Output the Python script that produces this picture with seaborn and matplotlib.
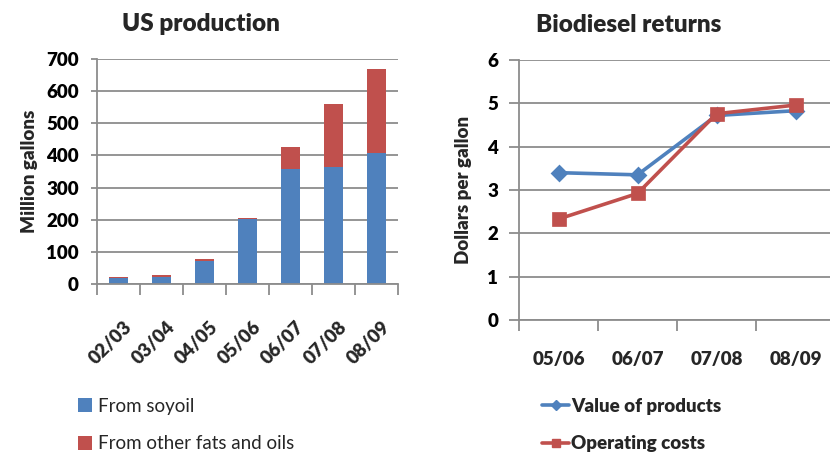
import matplotlib
matplotlib.use("Agg")
import matplotlib.pyplot as plt
import matplotlib.transforms as mtransforms
from matplotlib.patches import Patch
from matplotlib.lines import Line2D
import numpy as np
import pandas as pd
import seaborn as sns

# ---- data ----
years_prod = ["02/03", "03/04", "04/05", "05/06", "06/07", "07/08", "08/09"]
soyoil = [18, 23, 72, 201, 358, 364, 409]
other_fats = [3, 4, 6, 4, 68, 196, 260]

years_ret = ["05/06", "06/07", "07/08", "08/09"]
value_products = [3.40, 3.35, 4.72, 4.83]
operating_costs = [2.33, 2.92, 4.76, 4.96]

BLUE = "#4F81BD"
RED = "#C0504D"
GRID = "#8C8C8C"
BOLD = "heavy"

sns.set_theme(style="white")
plt.rcParams['font.family'] = ['Lato', 'DejaVu Sans']

W, H = 830, 458
fig = plt.figure(figsize=(W / 100, H / 100), dpi=100)


def px_axes(x0, y0, x1, y1):
    return fig.add_axes([x0 / W, 1 - y1 / H, (x1 - x0) / W, (y1 - y0) / H])


def style_axes(ax, ncat, ytick_pad, ytick_len):
    for s in ["top", "right"]:
        ax.spines[s].set_visible(False)
    for s in ["left", "bottom"]:
        ax.spines[s].set_color(GRID)
        ax.spines[s].set_linewidth(1.3)
    ax.grid(axis="y", color=GRID, linewidth=1.3)
    ax.grid(axis="x", visible=False)
    ax.set_axisbelow(True)
    ax.set_xlim(-0.5, ncat - 0.5)
    ax.set_xticks(np.arange(-0.5, ncat, 1.0), minor=True)
    ax.tick_params(axis="x", which="minor", length=8, width=1.3, color=GRID,
                   direction="out", bottom=True)
    ax.tick_params(axis="x", which="major", length=0, bottom=False)
    ax.tick_params(axis="y", which="major", length=ytick_len, width=1.3,
                   color=GRID, direction="out", left=True, pad=ytick_pad)
    for lab in ax.get_yticklabels():
        lab.set_fontweight(BOLD)
        lab.set_fontsize(13.5)
        lab.set_color("black")


# ---- left: US production (stacked bars) ----
ax1 = px_axes(97, 59, 398, 284)
df_prod = pd.DataFrame({"year": years_prod, "soy": soyoil, "other": other_fats})
sns.barplot(data=df_prod, x="year", y="other", bottom=df_prod["soy"],
            color=RED, width=0.42, saturation=1, ax=ax1, edgecolor="none")
sns.barplot(data=df_prod, x="year", y="soy",
            color=BLUE, width=0.42, saturation=1, ax=ax1, edgecolor="none")
ax1.set_ylim(0, 700)
ax1.set_yticks(range(0, 701, 100))
ax1.set_xlabel("")
ax1.set_ylabel("Million gallons", fontsize=13.5, fontweight=BOLD)
style_axes(ax1, len(years_prod), ytick_pad=9, ytick_len=4)
ax1.tick_params(axis="x", which="major", pad=0)
ax1.set_xticks(range(len(years_prod)))
ax1.set_xticklabels(years_prod, rotation=45, ha="right", va="center",
                    rotation_mode="anchor", fontsize=13.5, fontweight=BOLD)
ax1.yaxis.set_label_coords(-59 / 301, 0.5)
ax1.set_title("US production", fontsize=17.5, fontweight=BOLD, pad=20,
              x=(201 - 97) / 301)

leg1 = fig.legend(
    handles=[Patch(facecolor=BLUE, edgecolor="none"),
             Patch(facecolor=RED, edgecolor="none")],
    labels=["From soyoil", "From other fats and oils"],
    loc="center left", bbox_to_anchor=(78 / W, 1 - 425 / H),
    frameon=False, fontsize=13.5, handlelength=0.75, handleheight=0.75,
    handletextpad=0.3, labelspacing=1.1, borderaxespad=0, borderpad=0)

# ---- right: Biodiesel returns (lines) ----
ax2 = px_axes(519, 60, 835, 320)
df_ret = pd.DataFrame({"year": years_ret, "value": value_products,
                       "cost": operating_costs})
sns.pointplot(data=df_ret, x="year", y="value", color=BLUE, marker="D",
              markersize=7, linewidth=2.6, ax=ax2, errorbar=None)
sns.pointplot(data=df_ret, x="year", y="cost", color=RED, marker="s",
              markersize=8, linewidth=2.6, ax=ax2, errorbar=None)
ax2.set_ylim(0, 6)
ax2.set_yticks(range(0, 7))
ax2.set_xlabel("")
ax2.set_ylabel("Dollars per gallon", fontsize=13.5, fontweight=BOLD)
style_axes(ax2, len(years_ret), ytick_pad=8, ytick_len=7)
ax2.set_xlim(-0.5, len(years_ret) - 0.5)
ax2.tick_params(axis="x", which="major", pad=22)
ax2.set_xticks(range(len(years_ret)))
ax2.set_xticklabels(years_ret, fontsize=13.5, fontweight=BOLD)
ax2.yaxis.set_label_coords(-47 / 316, 0.5)
ax2.set_title("Biodiesel returns", fontsize=17.5, fontweight=BOLD, pad=20,
              x=(629 - 519) / 316)

leg2 = fig.legend(
    handles=[Line2D([0], [0], color=BLUE, marker="D", markersize=5, linewidth=2.6),
             Line2D([0], [0], color=RED, marker="s", markersize=6, linewidth=2.6)],
    labels=["Value of products", "Operating costs"],
    loc="center left", bbox_to_anchor=(542 / W, 1 - 425 / H),
    frameon=False, handlelength=1.45, handletextpad=0.1, labelspacing=1.1,
    borderaxespad=0, borderpad=0, prop={"size": 13.5, "weight": BOLD})

# shift the rotated production labels so they end just right of the bar centres
off = mtransforms.ScaledTranslation(11 / 100, -40 / 100, fig.dpi_scale_trans)
for lab in ax1.xaxis.get_majorticklabels():
    lab.set_transform(lab.get_transform() + off)

fig.savefig("out.png", dpi=100)
